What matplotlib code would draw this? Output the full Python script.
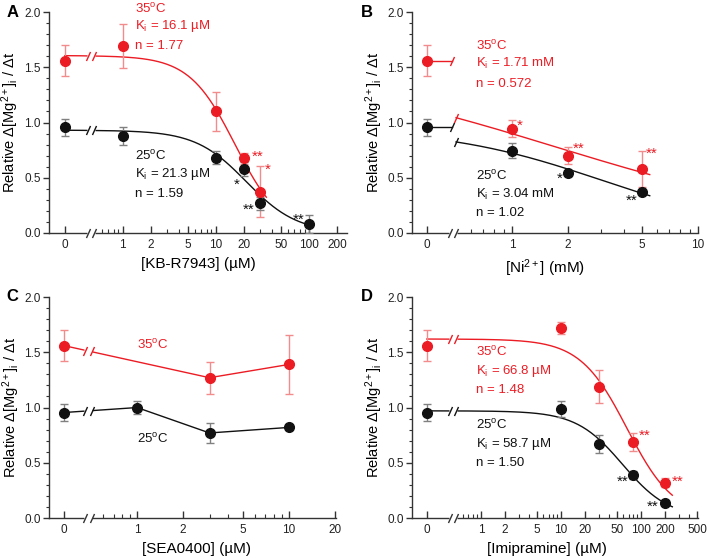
import numpy as np
import matplotlib
matplotlib.use("Agg")
import matplotlib.pyplot as plt
from matplotlib import transforms
from matplotlib.ticker import FixedLocator, MultipleLocator

plt.rcParams['font.family'] = ['Liberation Sans', 'DejaVu Sans']
plt.rcParams['mathtext.fontset'] = 'custom'
plt.rcParams['mathtext.rm'] = 'Liberation Sans'
plt.rcParams['mathtext.it'] = 'Liberation Sans:italic'
plt.rcParams['mathtext.bf'] = 'Liberation Sans:bold'

RED = '#ec1c24'
RED_ERR = '#f28b8b'
BLK = '#111111'
BLK_ERR = '#808080'
AXC = '#333333'

# ---- A : KB-R7943 (uM) ----
a_red_x = [0, 1, 10, 20, 30]
a_red_y = [1.56, 1.69, 1.10, 0.675, 0.375]
a_red_e = [0.14, 0.20, 0.18, 0.05, 0.23]
a_blk_x = [0, 1, 10, 20, 30, 100]
a_blk_y = [0.955, 0.875, 0.68, 0.58, 0.27, 0.08]
a_blk_e = [0.075, 0.08, 0.06, 0.06, 0.06, 0.08]
a_fit_red = (1.605, 16.1, 1.77)   # top, Ki, n
a_fit_blk = (0.93, 21.3, 1.59)
a_ticks = [0, 1, 2, 5, 10, 20, 50, 100, 200]

# ---- B : Ni2+ (mM) ----
b_red_x = [0, 1, 2, 5]
b_red_y = [1.56, 0.945, 0.70, 0.58]
b_red_e = [0.14, 0.08, 0.08, 0.16]
b_blk_x = [0, 1, 2, 5]
b_blk_y = [0.955, 0.745, 0.54, 0.37]
b_blk_e = [0.075, 0.065, 0.02, 0.02]
b_fit_red = (1.56, 1.71, 0.572)
b_fit_blk = (0.955, 3.04, 1.02)
b_ticks = [0, 1, 2, 5, 10]

# ---- C : SEA0400 (uM) ----
c_red_x = [0, 3, 10]
c_red_y = [1.56, 1.27, 1.39]
c_red_e = [0.14, 0.145, 0.27]
c_blk_x = [0, 1, 3, 10]
c_blk_y = [0.955, 1.0, 0.77, 0.82]
c_blk_e = [0.075, 0.055, 0.09, 0.02]
c_ticks = [0, 1, 2, 5, 10, 20]

# ---- D : Imipramine (uM) ----
d_red_x = [0, 10, 30, 80, 200]
d_red_y = [1.56, 1.72, 1.19, 0.69, 0.32]
d_red_e = [0.14, 0.055, 0.15, 0.08, 0.04]
d_blk_x = [0, 10, 30, 80, 200]
d_blk_y = [0.955, 0.985, 0.67, 0.39, 0.14]
d_blk_e = [0.075, 0.07, 0.085, 0.04, 0.02]
d_fit_red = (1.62, 66.8, 1.48)
d_fit_blk = (0.97, 58.7, 1.50)
d_ticks = [0, 1, 2, 5, 10, 20, 50, 100, 200, 500]

XS = 0.5  # where the log part of the x axis starts
SLASH = [(-0.45, -1), (0.45, 1)]


def hill(x, top, ki, n):
    x = np.asarray(x, float)
    return top / (1 + (x / ki) ** n)


def make_scale(z0):
    ls = np.log10(XS)
    k = (ls - z0) / XS

    def fwd(x):
        x = np.asarray(x, float)
        return np.where(x >= XS, np.log10(np.maximum(x, XS)), z0 + k * x)

    def inv(y):
        y = np.asarray(y, float)
        return np.where(y >= ls, 10.0 ** np.minimum(y, 10), (y - z0) / k)
    return fwd, inv


def slash(ax, x, y, color, trans=None, dx=0.0, ms=6.5):
    tr = trans if trans is not None else ax.transData
    t = transforms.offset_copy(tr, fig=ax.figure, x=dx, y=0, units='points')
    ax.plot([x], [y], marker=SLASH, ms=ms, mfc='none', mec=color, mew=1,
            transform=t, clip_on=False, zorder=6)


def brk(ax, x, y, color, trans=None):
    tr = trans if trans is not None else ax.transData
    ax.plot([x], [y], marker='_', ms=5.5, mew=3.5, color='white',
            transform=tr, clip_on=False, zorder=5)
    slash(ax, x, y, color, tr, -2.2)
    slash(ax, x, y, color, tr, 2.2)


def setup(ax, z0, lim, ticks, minor, bc, xlabel, lab_x):
    fwd, inv = make_scale(z0)
    ax.set_xscale('function', functions=(fwd, inv))
    ax.set_xlim(float(inv(lim[0])), float(inv(lim[1])))
    ax.set_ylim(0, 2.0)
    ax.xaxis.set_major_locator(FixedLocator(ticks))
    ax.set_xticklabels([str(t) for t in ticks])
    ax.xaxis.set_minor_locator(FixedLocator(minor))
    ax.yaxis.set_major_locator(MultipleLocator(0.5))
    ax.yaxis.set_minor_locator(MultipleLocator(0.1))
    ax.yaxis.set_major_formatter(matplotlib.ticker.FormatStrFormatter('%.1f'))
    for s in ['top', 'right']:
        ax.spines[s].set_visible(False)
    for s in ['left', 'bottom']:
        ax.spines[s].set_color(AXC)
        ax.spines[s].set_linewidth(1)
    ax.tick_params(axis='x', which='major', direction='in', length=5, width=1,
                   color=AXC, labelsize=8.5, labelcolor='#222', pad=4)
    ax.tick_params(axis='x', which='minor', direction='in', length=3, width=0.8, color=AXC)
    ax.tick_params(axis='y', which='major', direction='out', length=4, width=1,
                   color=AXC, labelsize=8.5, labelcolor='#222', pad=2)
    ax.tick_params(axis='y', which='minor', direction='out', length=2, width=0.8, color=AXC)
    ax.set_ylabel(r'Relative $\mathit{\Delta}$[Mg$^{2+}$]$_{\mathrm{i}}$ / $\mathit{\Delta}$t',
                  fontsize=10.5)
    ax.yaxis.set_label_coords(-0.093, 0.5)
    ax.set_xlabel(xlabel, fontsize=11)
    ax.xaxis.set_label_coords(lab_x, -0.11)
    xb = float(inv(bc))
    brk(ax, xb, 0, AXC, ax.get_xaxis_transform())
    return fwd, inv


def points(ax, x, y, e, color, ecolor):
    ax.errorbar(x, y, yerr=e, fmt='o', ms=7, color=color, mec=color,
                ecolor=ecolor, elinewidth=1, capsize=3, capthick=1, zorder=4)


def label_block(ax, x, ys, lines, color):
    for yy, s in zip(ys, lines):
        ax.text(x, yy, s, color=color, fontsize=9.5, ha='left', va='center')


def stars(ax, items, color):
    for x, y, s in items:
        ax.text(x, y, s, color=color, fontsize=11, ha='center', va='center')


deg = r'$^{\mathrm{o}}$C'
ki = r'K$_{\mathrm{i}}$'

fig = plt.figure(figsize=(7.09, 5.59), dpi=100)

# ---------------- A ----------------
ax = fig.add_axes([0.0691, 0.5832, 0.4203, 0.3953])
fwd, inv = setup(ax, -0.62, (-0.79, 2.41), a_ticks,
                 [0.6, 0.7, 0.8, 0.9, 3, 4, 6, 7, 8, 9, 30, 40, 60, 70, 80, 90],
                 -0.335, '[KB-R7943] (µM)', 0.5)
xb = float(inv(-0.335))
for fit, end, col in [(a_fit_red, 35, RED), (a_fit_blk, 112, BLK)]:
    xx = np.concatenate([np.linspace(0, XS, 20), np.geomspace(XS, end, 200)])
    ax.plot(xx, hill(xx, *fit), color=col, lw=1, zorder=3)
    brk(ax, xb, fit[0], col)
points(ax, a_red_x, a_red_y, a_red_e, RED, RED_ERR)
points(ax, a_blk_x, a_blk_y, a_blk_e, BLK, BLK_ERR)
label_block(ax, 1.35, [2.03, 1.87, 1.69], ['35' + deg, ki + ' = 16.1 µM', 'n = 1.77'], RED)
label_block(ax, 1.35, [0.70, 0.53, 0.35], ['25' + deg, ki + ' = 21.3 µM', 'n = 1.59'], BLK)
stars(ax, [(28.5, 0.69, '**'), (36, 0.57, '*')], RED)
stars(ax, [(17, 0.44, '*'), (22.4, 0.21, '**'), (77, 0.12, '**')], BLK)

# ---------------- B ----------------
ax = fig.add_axes([0.5811, 0.5832, 0.4034, 0.3953])
fwd, inv = setup(ax, -0.457, (-0.538, 1.0), b_ticks,
                 [0.6, 0.7, 0.8, 0.9, 3, 4, 6, 7, 8, 9],
                 -0.318, '[Ni$^{2+}$] (mM)', 0.465)
xe = float(inv(-0.325))
for fit, col in [(b_fit_red, RED), (b_fit_blk, BLK)]:
    ax.plot([0, xe], [fit[0], fit[0]], color=col, lw=1, zorder=3)
    slash(ax, xe, fit[0], col)
    xx = np.geomspace(XS, 5.5, 200)
    ax.plot(xx, hill(xx, *fit), color=col, lw=1, zorder=3)
    slash(ax, XS, float(hill(XS, *fit)), col)
points(ax, b_red_x, b_red_y, b_red_e, RED, RED_ERR)
points(ax, b_blk_x, b_blk_y, b_blk_e, BLK, BLK_ERR)
label_block(ax, 0.64, [1.69, 1.53, 1.35], ['35' + deg, ki + ' = 1.71 mM', 'n = 0.572'], RED)
label_block(ax, 0.64, [0.52, 0.35, 0.18], ['25' + deg, ki + ' = 3.04 mM', 'n = 1.02'], BLK)
stars(ax, [(1.1, 0.97, '*'), (2.29, 0.76, '**'), (5.66, 0.72, '**')], RED)
stars(ax, [(1.81, 0.49, '*'), (4.4, 0.29, '**')], BLK)

# ---------------- C ----------------
ax = fig.add_axes([0.0691, 0.0733, 0.4048, 0.3953])
fwd, inv = setup(ax, -0.48, (-0.58, 1.31), c_ticks,
                 [0.6, 0.7, 0.8, 0.9, 3, 4, 6, 7, 8, 9],
                 -0.32, '[SEA0400] (µM)', 0.515)
xb = float(inv(-0.32))
for xs_, ys_, col in [(c_red_x, c_red_y, RED), (c_blk_x, c_blk_y, BLK)]:
    ax.plot(xs_, ys_, color=col, lw=1, zorder=3)
    p0, p1 = float(fwd(xs_[0])), float(fwd(xs_[1]))
    yb = ys_[0] + (ys_[1] - ys_[0]) * (-0.32 - p0) / (p1 - p0)
    brk(ax, xb, yb, col)
points(ax, c_red_x, c_red_y, c_red_e, RED, RED_ERR)
points(ax, c_blk_x, c_blk_y, c_blk_e, BLK, BLK_ERR)
label_block(ax, 1.0, [1.57], ['35' + deg], RED)
label_block(ax, 1.0, [0.72], ['25' + deg], BLK)

# ---------------- D ----------------
ax = fig.add_axes([0.5811, 0.0733, 0.4034, 0.3953])
fwd, inv = setup(ax, -0.675, (-0.86, 2.71), d_ticks,
                 [0.6, 0.7, 0.8, 0.9, 3, 4, 6, 7, 8, 9, 30, 40, 60, 70, 80, 90,
                  300, 400],
                 -0.35, '[Imipramine] (µM)', 0.472)
xb = float(inv(-0.35))
for fit, col in [(d_fit_red, RED), (d_fit_blk, BLK)]:
    xx = np.concatenate([np.linspace(0, XS, 20), np.geomspace(XS, 245, 200)])
    ax.plot(xx, hill(xx, *fit), color=col, lw=1, zorder=3)
    brk(ax, xb, fit[0], col)
points(ax, d_red_x, d_red_y, d_red_e, RED, RED_ERR)
points(ax, d_blk_x, d_blk_y, d_blk_e, BLK, BLK_ERR)
label_block(ax, 0.87, [1.50, 1.33, 1.16], ['35' + deg, ki + ' = 66.8 µM', 'n = 1.48'], RED)
label_block(ax, 0.87, [0.84, 0.67, 0.50], ['25' + deg, ki + ' = 58.7 µM', 'n = 1.50'], BLK)
stars(ax, [(112, 0.74, '**'), (282, 0.33, '**')], RED)
stars(ax, [(58, 0.33, '**'), (138, 0.10, '**')], BLK)

# panel letters
for lx, ly, s in [(0.018, 0.978, 'A'), (0.518, 0.978, 'B'),
                  (0.018, 0.469, 'C'), (0.518, 0.469, 'D')]:
    fig.text(lx, ly, s, fontsize=12, fontweight='bold', ha='center', va='center')

fig.savefig('out.png', dpi=100)
